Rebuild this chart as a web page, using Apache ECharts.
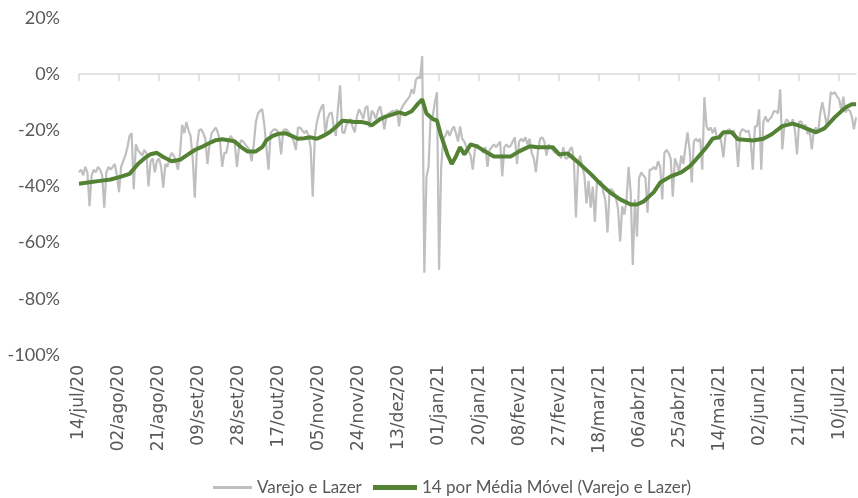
<!DOCTYPE html>
<html>
<head>
<meta charset="utf-8">
<style>
  html, body { margin: 0; padding: 0; background: #fff; }
  #chart { width: 858px; height: 498px; }
</style>
</head>
<body>
<div id="chart"></div>
<script src="https://cdn.jsdelivr.net/npm/echarts@6/dist/echarts.min.js"></script>
<script>
  // categorias: um dia por ponto, de 14/jul/20 a 18/jul/21
  var startDay = [2020, 6, 14];
  var dayCount = 370;
  var monthNames = ['jan','fev','mar','abr','mai','jun','jul','ago','set','out','nov','dez'];
  var yTicks = [-100, -80, -60, -40, -20, 0, 20];

  // Varejo e Lazer (% diário)
  var varejo = [
    -35, -34, -36, -33, -35, -47, -36,
    -34, -35, -33, -34, -36, -47.5, -35,
    -33, -34, -33, -32, -36, -42, -33,
    -31, -29, -26, -22, -21, -41, -25,
    -27, -28, -29, -27, -28, -40, -31,
    -30, -35, -31, -30, -33, -40.4, -32,
    -33, -30, -28, -29, -31, -34, -28,
    -18, -21, -17, -20, -22, -30, -44,
    -26, -20, -19.6, -21, -23, -32, -25,
    -21, -20, -19, -21, -24, -33, -28,
    -28, -24, -22, -23, -25, -33, -26,
    -23.5, -24, -25, -26, -27, -31, -25,
    -17, -14, -13, -12.5, -18, -26, -34,
    -21, -20, -19.6, -20, -22, -28.6, -20,
    -19.6, -20, -21, -22, -24, -27, -19,
    -19, -20, -21, -20, -22, -26, -43.6,
    -22, -17, -14, -12, -10.7, -22, -16,
    -14, -13.6, -19, -22, -12, -4, -20.7,
    -21, -18, -16.8, -16, -19, -20.7, -15,
    -12.5, -14, -16, -12, -11.4, -19, -13,
    -14, -16, -13, -11.4, -15, -19.6, -15,
    -14, -13.6, -13, -13.6, -12.5, -18.6, -12.5,
    -11, -10, -9, -8, -5.4, -7, -2,
    -1, -1.5, 6.4, -70.7, -36.8, -32.8, -15,
    -15, -10, -6.4, -69.6, -33, -23, -22,
    -20, -22, -20, -18.6, -21, -24, -18.6,
    -23, -24, -26, -27.5, -29, -34, -27,
    -25, -26, -27, -28, -26, -33, -27,
    -26, -25, -26, -25, -24, -36.4, -26,
    -25, -26, -25.5, -24, -22.5, -32, -24,
    -23, -24, -22.5, -25, -23, -28, -30,
    -35, -27, -23, -22.5, -24, -29, -25,
    -26, -27, -28, -27, -28, -30, -26,
    -30, -30, -27, -26, -30, -51, -32,
    -29, -33, -36, -46, -38, -47.5, -40,
    -52.5, -38, -39, -38, -42, -45, -56.4,
    -41, -41, -42, -44, -48, -59.6, -47,
    -50, -45, -33, -42, -67.9, -44.6, -57.9,
    -37, -35, -36, -37, -49.3, -34, -34,
    -33, -34, -31, -33, -44.6, -28, -27,
    -28, -30, -43.6, -30, -32, -35, -29,
    -32, -26, -20.7, -27, -38.6, -24, -23,
    -24, -23, -34, -8.2, -18.6, -20, -19,
    -21, -19, -22.9, -22, -24, -29.6, -22,
    -20, -19.6, -21.4, -20, -23, -33, -21,
    -19.6, -20, -20.7, -20, -24, -34, -18.6,
    -18.6, -12.5, -34, -17, -15, -17, -16,
    -15, -13.2, -13.2, -14, -5.4, -26.8, -18,
    -16, -17, -18, -16, -20, -28.6, -17,
    -16.8, -19, -18, -21.4, -20, -26.8, -20,
    -19, -21, -14, -10, -13.6, -18, -15,
    -6.4, -7, -6.4, -8, -8.9, -13, -8,
    -13.6, -12.5, -13, -15, -19.6, -15.4
  ];

  // média móvel: dia (índice da categoria) e valor
  var mediaDias = [0,5,10,15,20,24,28,31,34,37,40,44,48,52,55,58,62,65,68,71,74,77,80,84,87,89,92,95,98,101,104,107,110,113,116,119,122,125,128,131,134,137,139,143,146,149,152,155,158,161,163,165,168,170,172,175,177,179,181,183,186,189,194,197,205,209,214,218,225,228,232,237,243,248,252,257,262,265,268,273,276,281,286,290,293,298,301,304,306,310,313,320,325,329,334,339,343,350,354,359,364,367,369];
  var mediaValores = [-39,-38.5,-38,-37.5,-36.5,-35.5,-32,-30,-28.5,-28,-29.5,-31,-30.5,-28.5,-27,-26,-24.5,-23.5,-23.2,-23.5,-24,-26,-27.5,-27.5,-26,-23.5,-22,-21.2,-21,-22,-23,-22.8,-22.5,-23,-22,-20.7,-18.8,-16.6,-16.8,-17,-17,-17.5,-18.2,-16,-15,-14.3,-13.6,-14.3,-13.2,-10.5,-9,-14,-16,-16.5,-22,-28.6,-32,-29.3,-26,-28.6,-25,-25.7,-28,-29.3,-29.3,-27.5,-25.7,-26,-26,-28.6,-28.2,-31.4,-35.5,-39.3,-42,-44.6,-46.4,-46.4,-45.4,-42,-38.6,-36.4,-35,-32.8,-30.4,-26,-22.9,-22.5,-20.7,-20.7,-23.2,-23.6,-23,-21.4,-18.5,-17.6,-18.6,-20.7,-19.3,-15.3,-11.9,-10.7,-10.7];

  var dates = [];
  for (var i = 0; i < dayCount; i++) {
    var d = new Date(Date.UTC(startDay[0], startDay[1], startDay[2] + i));
    var dd = ('0' + d.getUTCDate()).slice(-2);
    dates.push(dd + '/' + monthNames[d.getUTCMonth()] + '/' + String(d.getUTCFullYear()).slice(-2));
  }

  var mediaData = [];
  for (var k = 0; k < mediaDias.length; k++) {
    mediaData.push([mediaDias[k], mediaValores[k]]);
  }

  var chart = echarts.init(document.getElementById('chart'));

  var legendText = { color: '#595959', fontSize: 17, fontFamily: 'Lato' };

  var option = {
    animation: false,
    grid: { left: 79, right: 2, top: 18, bottom: 143 },
    legend: [
      {
        left: 213, top: 479, padding: 0,
        icon: 'rect', itemWidth: 39, itemHeight: 3,
        textStyle: legendText,
        data: ['Varejo e Lazer']
      },
      {
        left: 373, top: 479, padding: 0,
        icon: 'rect', itemWidth: 44, itemHeight: 5,
        textStyle: legendText,
        data: ['14 por Média Móvel (Varejo e Lazer)']
      }
    ],
    xAxis: [
      {
        type: 'category',
        data: dates,
        boundaryGap: false,
        position: 'bottom',
        axisLine: { show: false, onZero: false },
        axisTick: { show: false },
        axisLabel: {
          interval: 18,
          rotate: 90,
          margin: 10,
          color: '#595959',
          fontSize: 17,
          fontFamily: 'DejaVu Sans'
        }
      },
      {
        type: 'category',
        data: dates,
        boundaryGap: false,
        position: 'bottom',
        axisLine: { show: true, onZero: true, lineStyle: { color: '#d9d9d9', width: 1.5 } },
        axisTick: { show: true, interval: 18, length: 7, lineStyle: { color: '#d9d9d9', width: 1.5 } },
        axisLabel: { show: false }
      }
    ],
    yAxis: {
      type: 'value',
      min: yTicks[0],
      max: yTicks[yTicks.length - 1],
      interval: 20,
      axisLine: { show: false },
      axisTick: { show: false },
      splitLine: { show: false },
      axisLabel: {
        formatter: '{value}%',
        margin: 19,
        color: '#595959',
        fontSize: 18,
        fontFamily: 'Lato'
      }
    },
    series: [
      {
        name: 'Varejo e Lazer',
        type: 'line',
        xAxisIndex: 0,
        data: varejo,
        symbol: 'none',
        lineStyle: { color: '#bfbfbf', width: 2.2 },
        itemStyle: { color: '#bfbfbf' },
        z: 2
      },
      {
        name: '14 por Média Móvel (Varejo e Lazer)',
        type: 'line',
        xAxisIndex: 0,
        data: mediaData,
        symbol: 'none',
        lineStyle: { color: '#548235', width: 4 },
        itemStyle: { color: '#548235' },
        z: 3
      }
    ]
  };

  chart.setOption(option);
</script>
</body>
</html>
